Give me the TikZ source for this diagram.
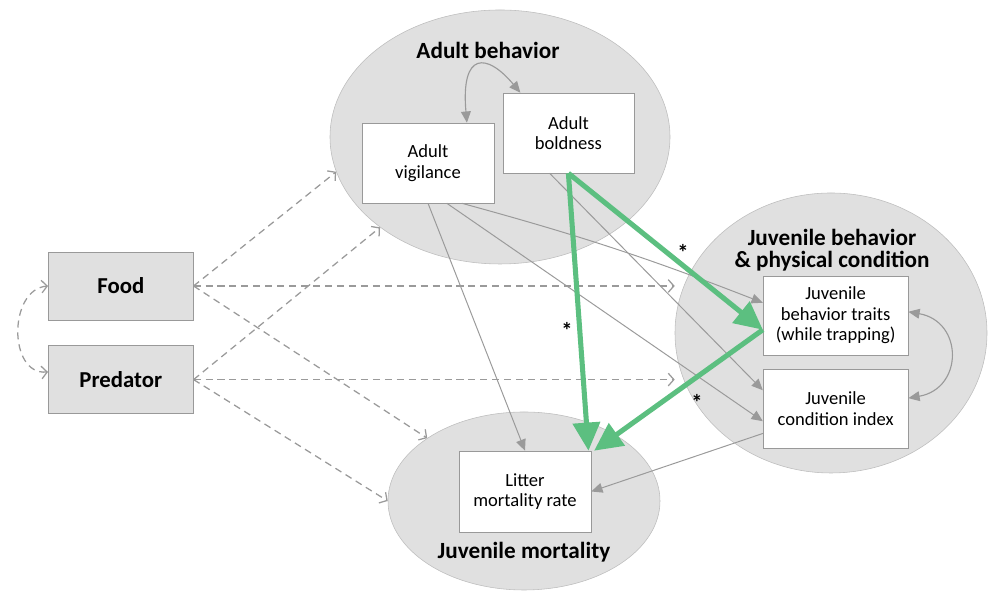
\documentclass[tikz,border=0pt]{standalone}
\usepackage{fontspec}
\setmainfont{Carlito}
\usetikzlibrary{arrows.meta,shapes.geometric}
\definecolor{groupfill}{HTML}{E0E0E0}
\definecolor{groupline}{HTML}{BDBDBD}
\definecolor{boxline}{HTML}{999999}
\definecolor{arrowgray}{HTML}{9A9A9A}
\definecolor{effectgreen}{HTML}{5CBF80}
\tikzset{
  graytip/.tip = {Triangle[length=8pt, width=7pt]},
  bartip/.tip = {Straight Barb[length=4pt, width=9pt, line width=0.9pt]},
  greentip/.tip = {Triangle[length=20pt, width=19pt]}
}
\begin{document}
\begin{tikzpicture}[
    group/.style = {ellipse, draw = groupline, fill = groupfill, inner sep = 0pt},
    varbox/.style = {draw = boxline, fill = white, align = center, inner sep = 0pt,
                     font = \fontsize{13.2}{14.6}\selectfont},
    envbox/.style = {draw = boxline, fill = groupfill, inner sep = 0pt,
                     minimum width = 3.625cm, minimum height = 1.7cm,
                     font = \fontsize{16.2}{18}\selectfont\bfseries},
    grouptitle/.style = {align = center, font = \fontsize{16.5}{15.5}\selectfont\bfseries},
    link/.style = {draw = arrowgray, line width = 0.7pt, -graytip},
    twoway/.style = {draw = arrowgray, line width = 0.8pt, graytip-graytip},
    envlink/.style = {draw = arrowgray, line width = 0.9pt, dash pattern = on 5pt off 3.5pt, -bartip},
    envtwoway/.style = {envlink, bartip-bartip},
    effect/.style = {draw = effectgreen, line width = 3.6pt, -greentip},
    star/.style = {font = \fontsize{16}{16}\selectfont\bfseries}
  ]
  \useasboundingbox (0,0) rectangle (24.725,14.85);

  % groups
  \node [group, minimum width = 8.5cm, minimum height = 6.35cm] (adult) at (12.5,11.425) {};
  \node [group, minimum width = 7.8cm, minimum height = 7cm] (juv) at (20.775,6.525) {};
  \node [group, minimum width = 6.8cm, minimum height = 4.45cm] (mort) at (13.1,2.325) {};
  \node [grouptitle] (adulttitle) at (12.2,13.6) {Adult behavior};
  \node [grouptitle] (juvtitle) at (20.8,8.6) {Juvenile behavior\\\& physical condition};
  \node [grouptitle] (morttitle) at (13.1,1.05) {Juvenile mortality};

  % variables
  \node [varbox, minimum width = 3.3cm, minimum height = 2cm] (vig) at (10.7,10.775) {Adult\\vigilance};
  \node [varbox, minimum width = 3.275cm, minimum height = 2cm] (bold) at (14.21,11.525) {Adult\\boldness};
  \node [varbox, minimum width = 3.625cm, minimum height = 1.975cm] (traits) at (20.89,6.96) {Juvenile\\behavior traits\\(while trapping)};
  \node [varbox, minimum width = 3.625cm, minimum height = 1.975cm] (cond) at (20.89,4.64) {Juvenile\\condition index};
  \node [varbox, minimum width = 3.3cm, minimum height = 2.025cm] (litter) at (13.125,2.5625) {Litter\\mortality rate};
  \node [envbox] (food) at (3.02,7.7) {Food};
  \node [envbox] (predator) at (3.02,5.36) {Predator};

  % environment effects
  \draw [envtwoway] (food.west) .. controls +(185:1) and +(185:1) .. (predator.174);
  \foreach \src/\a/\m in {food/192/147, predator/217/180}{
    \draw [envlink] (\src.east) -- (adult.\a);
    \draw [envlink] (\src.east) -- (\src.east -| juv.west);
    \draw [envlink] (\src.east) -- (mort.\m);
  }

  % paths between variables
  \draw [twoway] (vig.46) .. controls +(95:1.8) and +(130:1.3) .. (bold.140);
  \draw [twoway] (traits.3) .. controls +(-10:1.4) and +(10:1.4) .. (cond.8);
  \draw [link] (vig.south) -- (litter.north);
  \draw [link] (vig.-50) to [bend left = 3] (traits.170);
  \draw [link] (vig.-65) -- (cond.190);
  \draw [link] (bold.245) -- (cond.166);
  \draw [link] (cond.199) -- (litter.east);

  % significant paths
  \draw [effect] (bold.south) -- ([xshift=-2pt]litter.north east);
  \draw [effect] (bold.south) -- (traits.191);
  \draw [effect] (traits.191) -- ([xshift=2pt]litter.north east);
  \node [star] (star1) at (17.075,8.55) {*};
  \node [star] (star2) at (14.175,6.6) {*};
  \node [star] (star3) at (17.425,4.8) {*};
\end{tikzpicture}
\end{document}
